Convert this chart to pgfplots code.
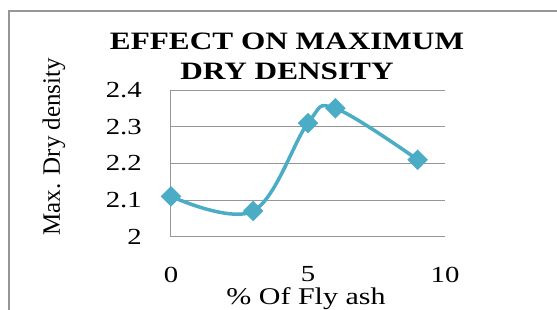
\documentclass[border=0pt]{standalone}
\usepackage{fontspec}
\setmainfont{Liberation Serif}[FakeStretch=1.25]
\newfontfamily\ylabfont{Liberation Serif}
\usepackage{pgfplots}
\pgfplotsset{compat=1.18}
\definecolor{lineblue}{RGB}{75,172,198}
\definecolor{gridgray}{RGB}{150,150,150}
\begin{document}
\begin{tikzpicture}
\useasboundingbox (0,0) rectangle (557pt,309pt);
\fill[white] (0,0) rectangle (557pt,309pt);
\draw[gridgray, line width=1.5pt] (9pt,298pt) rectangle (620pt,-60pt);
\begin{axis}[
  at={(171pt,72.3pt)}, anchor=south west,
  scale only axis, width=274pt, height=146.7pt,
  xmin=0, xmax=10, ymin=2, ymax=2.4,
  clip=false,
  axis x line*=bottom, axis y line*=left,
  axis line style={-, gridgray, line width=1pt},
  ymajorgrids, grid style={gridgray, line width=1pt},
  major tick length=0pt,
  xtick={0,5,10}, xticklabels={0,5,10},
  ytick={2,2.1,2.2,2.3,2.4}, yticklabels={2,2.1,2.2,2.3,2.4},
  /pgf/number format/assume math mode=true,
  ticklabel style={font=\fontsize{23}{27}\selectfont, inner sep=0pt},
  xticklabel style={anchor=north, yshift=-30pt},
  yticklabel style={anchor=east, xshift=-29pt},
  title={EFFECT ON MAXIMUM\\DRY DENSITY},
  every axis title/.style={at={([xshift=-21pt, yshift=10pt]axis description cs:0.5,1)}, anchor=south, align=center, inner sep=0pt, font=\fontsize{25}{30}\selectfont\bfseries},
  xlabel={\% Of Fly ash},
  every axis x label/.style={at={([xshift=-2pt, yshift=-68pt]axis description cs:0.5,0)}, anchor=base, inner sep=0pt, font=\fontsize{24}{28}\selectfont},
  ylabel={Max. Dry density},
  every axis y label/.style={at={([xshift=-117pt, yshift=16.6pt]axis description cs:0,0.5)}, anchor=center, rotate=90, inner sep=0pt, font=\ylabfont\fontsize{25}{29}\selectfont},
]
\addplot[color=lineblue, line width=3.5pt, smooth, tension=0.6, mark=square*, mark size=5.5pt, mark options={rotate=45, solid, fill=lineblue}]
  coordinates {(0,2.11) (3,2.07) (5,2.31) (6,2.35) (9,2.21)};
\end{axis}
\end{tikzpicture}
\end{document}
